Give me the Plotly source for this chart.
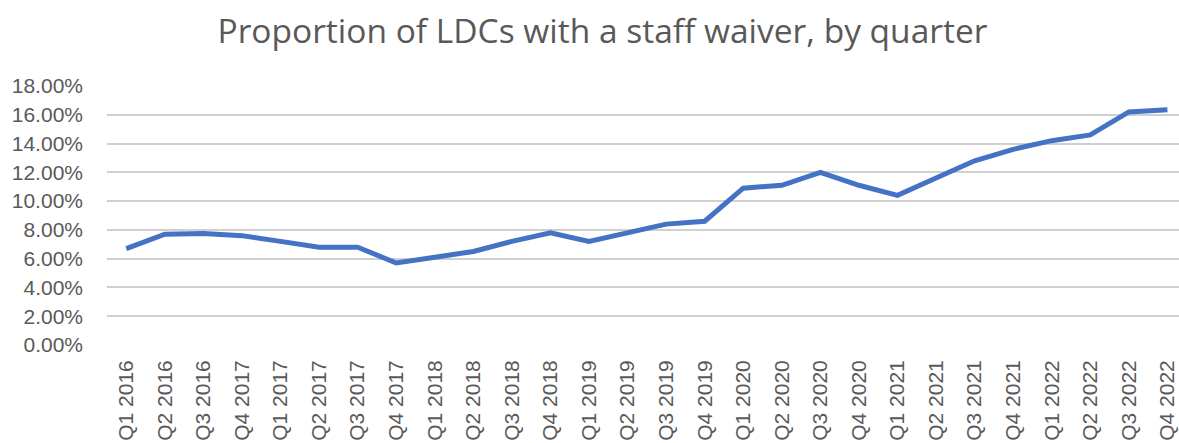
import plotly.graph_objects as go

quarters = ["Q1 2016", "Q2 2016", "Q3 2016", "Q4 2017", "Q1 2017", "Q2 2017", "Q3 2017",
            "Q4 2017", "Q1 2018", "Q2 2018", "Q3 2018", "Q4 2018", "Q1 2019", "Q2 2019",
            "Q3 2019", "Q4 2019", "Q1 2020", "Q2 2020", "Q3 2020", "Q4 2020", "Q1 2021",
            "Q2 2021", "Q3 2021", "Q4 2021", "Q1 2022", "Q2 2022", "Q3 2022", "Q4 2022"]
waiver_pct = [6.7, 7.7, 7.75, 7.6, 7.2, 6.8, 6.8, 5.7, 6.1, 6.5, 7.2, 7.8, 7.2, 7.8,
              8.4, 8.6, 10.9, 11.1, 12.0, 11.1, 10.4, 11.6, 12.8, 13.6, 14.2, 14.6, 16.2, 16.35]
y_ticks = [0, 2, 4, 6, 8, 10, 12, 14, 16, 18]

x_idx = list(range(len(quarters)))
grey = "#595959"
tick_font = dict(family="Liberation Sans, Arial, sans-serif", size=21, color=grey)

fig = go.Figure()
fig.add_trace(go.Scatter(
    x=x_idx, y=[v / 100 for v in waiver_pct], mode="lines",
    line=dict(color="#4472C4", width=5),
))

fig.update_layout(
    width=1179, height=443,
    paper_bgcolor="white", plot_bgcolor="white",
    margin=dict(l=107, r=0, t=86, b=98, autoexpand=False),
    showlegend=False,
    title=dict(text="Proportion of LDCs with a staff waiver, by quarter",
               x=0.511, xanchor="center", y=0.93, yanchor="middle",
               font=dict(family="Open Sans, Liberation Sans, sans-serif", size=33.5, color=grey)),
    font=tick_font,
)
fig.update_xaxes(
    tickmode="array", tickvals=x_idx, ticktext=quarters, tickangle=-90,
    range=[-0.5, len(quarters) - 0.7], showgrid=False, zeroline=False,
    showline=False, ticks="", tickfont=tick_font, automargin=False,
    ticklabelstandoff=10,
)
fig.update_yaxes(
    range=[0, 0.18], tickvals=[t / 100 for t in y_ticks], tickformat=".2%",
    showgrid=True, gridcolor="#D0D0D0", gridwidth=1.5, zeroline=False,
    showline=False, ticks="", tickfont=tick_font, automargin=False,
    ticklabelstandoff=23,
)

fig.write_html("out.html", config={"displayModeBar": False},
               post_script="document.body.style.margin='0';")
